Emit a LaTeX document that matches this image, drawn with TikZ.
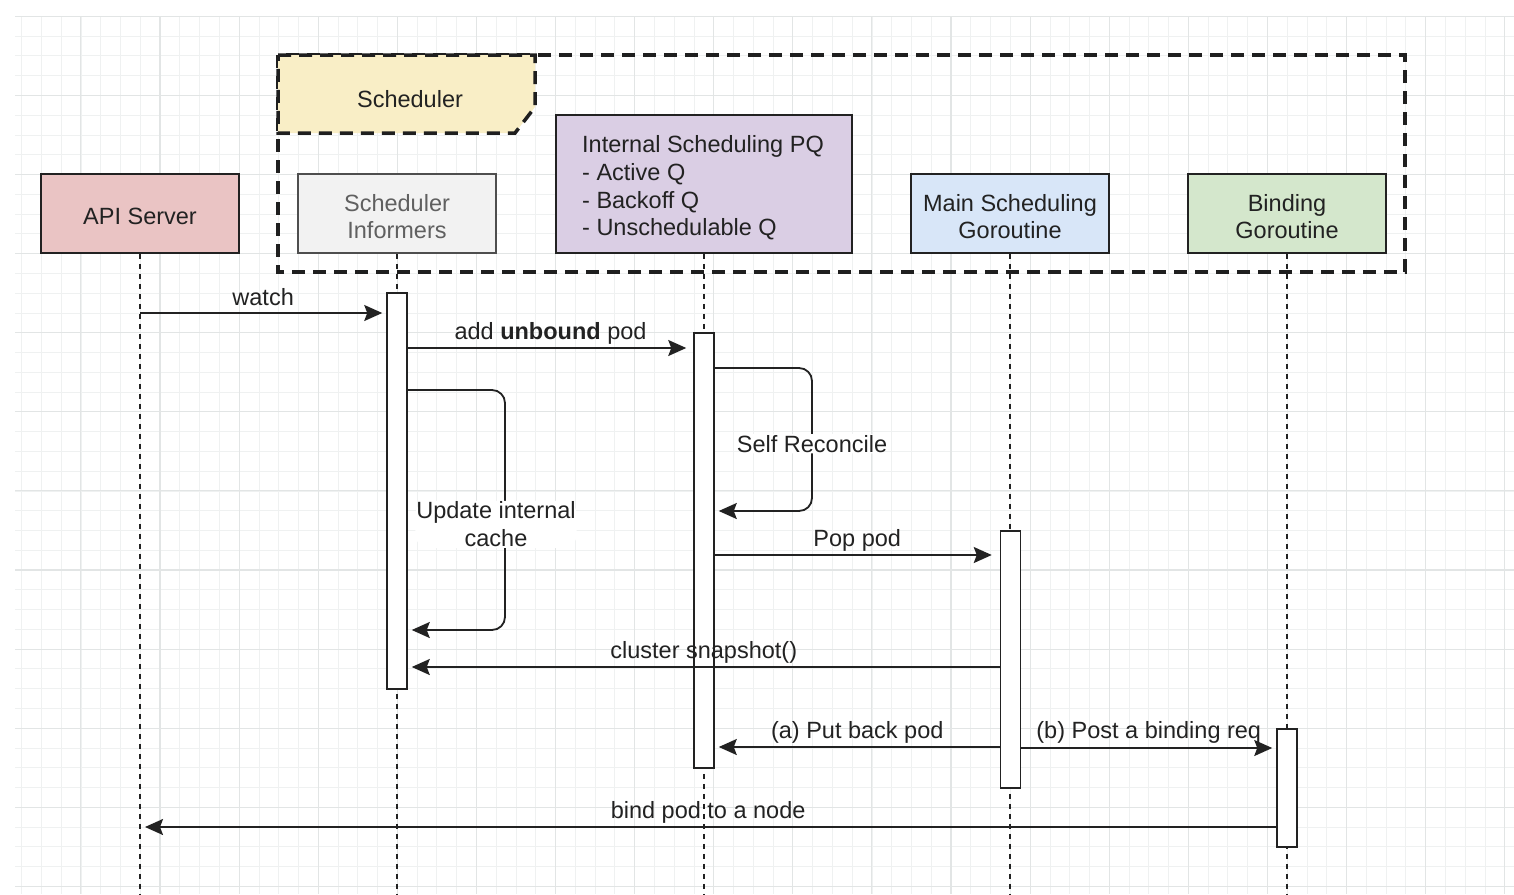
\documentclass[tikz,border=0pt]{standalone}
\usepackage{fontspec}
\setmainfont{Liberation Sans}
\usetikzlibrary{arrows.meta}
\definecolor{gminor}{HTML}{EFF1F1}
\definecolor{gmajor}{HTML}{E2E5E5}
\definecolor{ink}{HTML}{222222}
\definecolor{apifill}{HTML}{EAC4C4}
\definecolor{inffill}{HTML}{F2F2F2}
\definecolor{pqfill}{HTML}{DACEE4}
\definecolor{mainfill}{HTML}{D8E6F8}
\definecolor{bindfill}{HTML}{D4E7CC}
\definecolor{tabfill}{HTML}{F9EEC6}
\begin{document}
\begin{tikzpicture}[x=1pt,y=-1pt,
  txt/.style={font=\fontsize{23.5}{27.7}\selectfont, text=ink},
  box/.style={draw=ink, line width=1.6pt, minimum width=198pt, minimum height=79pt, inner sep=0pt},
  boxtext/.style={label={[txt, align=center, yshift=-3pt]center:#1}},
  bar/.style={draw=ink, fill=white, line width=1.5pt, minimum width=20pt, inner sep=0pt},
  life/.style={draw=ink, line width=1.4pt, dash pattern=on 5pt off 5pt},
  frame/.style={draw=ink!90!black, line width=3.5pt, dash pattern=on 13pt off 8pt},
  msg/.style={draw=ink, line width=1.8pt, -{Stealth[length=18pt,width=16pt,inset=3pt]}, shorten >=4pt},
  lbl/.style={txt, inner sep=1pt},
  gminorline/.style={draw=gminor, line width=0.8pt},
  gmajorline/.style={draw=gmajor, line width=1.1pt}]
\useasboundingbox (0,0) rectangle (1514,894);
\fill[white] (0,0) rectangle (1514,894);
% grid
\foreach \i in {0,...,75} { \draw[gminorline] ({21.6+\i*19.775},16) -- ({21.6+\i*19.775},894); }
\foreach \j in {0,...,44} { \draw[gminorline] (15,{16.3+\j*19.775}) -- (1514,{16.3+\j*19.775}); }
\foreach \k in {0,...,18} { \draw[gmajorline] ({80.9+\k*79.1},16) -- ({80.9+\k*79.1},894); }
\foreach \k in {0,...,11} { \draw[gmajorline] (15,{16.3+\k*79.1}) -- (1514,{16.3+\k*79.1}); }

% scheduler frame and tab
\draw[frame] (278,55) rectangle (1405,272);
\draw[frame, fill=tabfill] (278,55) -- (535,55) -- (535,107) -- (515,133) -- (278,133) -- cycle;
\node[txt] (schedtitle) at (410,99) {Scheduler};

% participants
\node[box, fill=apifill, boxtext={API Server}] (api) at (140,213.5) {};
\node[box, fill=inffill, draw=ink!80, label={[txt, text=ink!72, align=center, yshift=-3pt]center:Scheduler\\Informers}] (inf) at (397,213.5) {};
\node[box, fill=pqfill, minimum width=296pt, minimum height=138pt, label={[txt, align=left, yshift=-4pt, xshift=-1pt]center:Internal Scheduling PQ\\- Active Q\\- Backoff Q\\- Unschedulable Q}] (pq) at (704,184) {};
\node[box, fill=mainfill, boxtext={Main Scheduling\\Goroutine}] (main) at (1010,213.5) {};
\node[box, fill=bindfill, boxtext={Binding\\Goroutine}] (bind) at (1287,213.5) {};

% y levels
\coordinate (ybot) at (0,894);
\coordinate (yw) at (0,313);
\coordinate (yadd) at (0,348);
\coordinate (yupd1) at (0,390);
\coordinate (yupd2) at (0,630);
\coordinate (xupd) at (505,0);
\coordinate (yrec1) at (0,368);
\coordinate (yrec2) at (0,511);
\coordinate (xrec) at (812,0);
\coordinate (ypop) at (0,555);
\coordinate (ysnap) at (0,667);
\coordinate (yput) at (0,747);
\coordinate (ypost) at (0,748);
\coordinate (ybind) at (0,827);

% lifelines
\foreach \p in {api,inf,pq,main,bind} { \draw[life] (\p.south) -- (\p.south |- ybot); }

% activation bars
\node[bar, minimum height=396pt] (b1) at (397,491) {};
\node[bar, minimum height=435pt] (b2) at (704,550.5) {};
\node[bar, minimum height=257pt] (b3) at (1010.5,659.5) {};
\node[bar, minimum height=118pt] (b4) at (1287,788) {};

% messages
\draw[msg] (api |- yw) -- node[lbl, above=5pt] {watch} (b1.west |- yw);
\draw[msg, shorten >=7pt] (b1.east |- yadd) -- node[lbl, above=2pt] {add \textbf{unbound} pod} (b2.west |- yadd);
\draw[msg, rounded corners=13pt] (b1.east |- yupd1) -- (xupd |- yupd1) -- node[lbl, fill=white, pos=0.56, xshift=-9pt, align=center] {Update internal\\cache} (xupd |- yupd2) -- (b1.east |- yupd2);
\draw[msg, rounded corners=13pt] (b2.east |- yrec1) -- (xrec |- yrec1) -- node[lbl, fill=white, pos=0.53] {Self Reconcile} (xrec |- yrec2) -- (b2.east |- yrec2);
\draw[msg, shorten >=8pt] (b2.east |- ypop) -- node[lbl, above=2pt] {Pop pod} (b3.west |- ypop);
\draw[msg] (b3.west |- ysnap) -- node[lbl, above=2pt] {cluster snapshot()} (b1.east |- ysnap);
\draw[msg] (b3.west |- yput) -- node[lbl, above=2pt] {(a) Put back pod} (b2.east |- yput);
\draw[msg] (b3.east |- ypost) -- node[lbl, above=3pt] {(b) Post a binding req} (b4.west |- ypost);
\draw[msg, shorten >=5pt] (b4.west |- ybind) -- node[lbl, above=2pt] {bind pod to a node} (api |- ybind);
\end{tikzpicture}
\end{document}
